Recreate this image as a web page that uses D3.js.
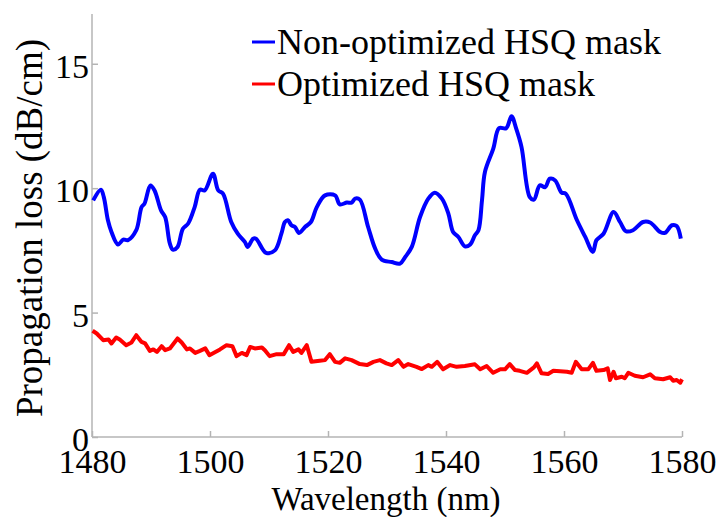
<html>
<script src='https://d3js.org/d3.v7.min.js'></script>
<style>
body {margin:0; background:#fff;}
.axis path, .axis line {stroke:#b4b4b4; stroke-width:1.5;}
</style>
<body>
<svg width=722 height=517></svg>
<script>
// non-optimized mask (blue), [wavelength, loss]
var blueWl = [1480.2,1481.5,1482.0,1482.7,1483.3,1484.4,1485.3,1486.1,1487.5,1488.4,1488.9,1489.9,1490.6,1491.7,1492.4,1493.2,1493.7,1494.5,1495.4,1496.3,1497.4,1498.3,1499.1,1500.5,1501.4,1502.2,1503.6,1504.7,1505.9,1506.4,1507.3,1507.8,1509.5,1511.0,1512.1,1512.7,1513.2,1513.8,1514.4,1515.1,1516.1,1517.1,1518.1,1519.5,1521.2,1522.0,1523.2,1524.0,1524.6,1525.4,1526.8,1528.0,1529.1,1530.8,1532.2,1533.1,1534.2,1535.6,1537.0,1538.1,1539.3,1540.4,1541.2,1542.1,1543.2,1544.1,1544.9,1545.5,1546.1,1546.6,1548.0,1549.0,1550.2,1551.1,1551.9,1552.8,1554.2,1554.9,1555.9,1556.8,1557.6,1558.5,1559.6,1560.3,1562.2,1563.6,1564.9,1565.5,1566.7,1568.4,1569.5,1570.5,1571.7,1573.4,1574.6,1576.3,1577.1,1578.3,1579.1,1579.8];
var blueLoss = [9.51,9.94,9.64,8.71,8.24,7.74,7.93,7.91,8.31,9.24,9.38,10.11,9.91,9.11,8.84,7.77,7.53,7.64,8.37,8.58,9.24,9.94,9.91,10.58,9.91,9.78,8.64,8.17,7.84,7.64,7.97,7.97,7.40,7.50,8.17,8.64,8.71,8.51,8.44,8.20,8.44,8.64,9.24,9.71,9.71,9.35,9.42,9.42,9.58,9.54,8.44,7.57,7.13,7.03,6.97,7.24,7.64,8.84,9.58,9.82,9.58,8.98,8.24,8.04,7.66,7.74,8.11,8.31,9.51,10.65,11.58,12.41,12.41,12.89,12.39,11.65,9.64,9.54,10.11,10.04,10.38,10.31,9.82,9.78,8.71,8.04,7.44,7.91,8.17,9.04,8.64,8.27,8.31,8.64,8.62,8.24,8.20,8.51,8.48,7.97];

// optimized mask (red)
var redWl = [1480.1,1480.8,1481.9,1482.8,1483.3,1484.1,1484.7,1485.8,1486.7,1487.5,1488.4,1489.0,1489.8,1490.4,1491.0,1491.8,1492.4,1493.2,1494.5,1495.2,1496.1,1496.6,1497.5,1498.3,1499.2,1499.9,1500.6,1501.7,1502.8,1503.8,1504.5,1505.4,1506.2,1506.8,1507.6,1508.8,1509.3,1510.1,1511.3,1512.5,1513.4,1514.1,1515.0,1515.5,1516.4,1517.2,1518.6,1519.5,1520.3,1521.2,1522.0,1522.9,1524.0,1525.4,1526.6,1527.7,1528.8,1529.9,1530.8,1531.9,1532.8,1533.6,1535.0,1535.9,1537.0,1537.6,1538.5,1539.5,1540.7,1541.8,1543.2,1544.9,1545.8,1546.9,1548.0,1549.2,1550.0,1550.8,1551.7,1552.5,1553.7,1554.9,1555.4,1556.2,1557.3,1558.2,1560.5,1561.3,1562.0,1563.0,1564.1,1564.9,1565.5,1566.7,1567.4,1567.8,1568.4,1568.8,1569.8,1570.3,1570.9,1572.0,1573.4,1574.6,1575.4,1576.8,1578.0,1578.5,1579.1,1579.7,1580.0];
var redLoss = [4.27,4.16,3.89,3.92,3.76,4.00,3.92,3.69,3.80,4.09,3.82,3.76,3.46,3.52,3.42,3.65,3.49,3.56,3.96,3.80,3.52,3.56,3.38,3.46,3.56,3.29,3.38,3.52,3.69,3.65,3.25,3.38,3.29,3.62,3.56,3.60,3.49,3.25,3.33,3.33,3.69,3.42,3.52,3.38,3.69,3.02,3.06,3.09,3.33,3.02,2.98,3.16,3.09,2.93,2.89,3.02,3.09,2.96,2.89,3.09,2.82,2.93,2.82,2.73,2.89,2.82,3.02,2.72,2.89,2.82,2.85,2.92,2.72,2.85,2.58,2.72,2.72,2.93,2.69,2.66,2.58,2.80,2.96,2.56,2.53,2.66,2.62,2.58,3.02,2.72,2.72,2.98,2.66,2.69,2.76,2.29,2.62,2.36,2.42,2.36,2.58,2.46,2.40,2.52,2.36,2.32,2.40,2.26,2.29,2.18,2.32];

var xTicks = [1480,1500,1520,1540,1560,1580];
var yTicks = [0,5,10,15];
var seriesNames = ['Non-optimized HSQ mask','Optimized HSQ mask'];
var seriesColors = ['#0000ff','#ff0000'];

// pick a serif face that is really installed
function pickFont(list){
  var ctx = document.createElement('canvas').getContext('2d');
  var probe = 'abcmwHSQ0123(nm)';
  ctx.font = '40px monospace';
  var w0 = ctx.measureText(probe).width;
  for (var i=0;i<list.length;i++){
    ctx.font = '40px "'+list[i]+'", monospace';
    if (ctx.measureText(probe).width !== w0) return '"'+list[i]+'", serif';
  }
  return 'serif';
}
var serif = pickFont(['Liberation Serif','Times New Roman','Tinos','Times','Nimbus Roman','Noto Serif','DejaVu Serif']);

var svg = d3.select('svg');
var mLeft = 92, mRight = 682, mTop = 14, mBottom = 437;

var xs = d3.scaleLinear().domain([1480,1580]).range([mLeft,mRight]);
var ys = d3.scaleLinear().domain([0,17]).range([mBottom,mTop]);

var ax = svg.append('g').attr('class','axis').attr('transform','translate(0,'+mBottom+')')
  .call(d3.axisBottom(xs).tickValues(xTicks).tickFormat(d3.format('d'))
    .tickSizeInner(-6).tickSizeOuter(0).tickPadding(12));
ax.attr('font-family',serif).attr('font-size',34);
ax.selectAll('text').attr('fill','#000').attr('dy','0.71em');

var ay = svg.append('g').attr('class','axis').attr('transform','translate('+mLeft+',0)')
  .call(d3.axisLeft(ys).tickValues(yTicks).tickFormat(d3.format('d'))
    .tickSizeInner(-6).tickSizeOuter(0).tickPadding(3));
ay.attr('font-family',serif).attr('font-size',34);
ay.selectAll('text').attr('fill','#000').attr('dy','0.4em');
// axis lines span the whole plot box
ay.select('.domain').attr('d','M0,'+mTop+'V'+mBottom);
ax.select('.domain').attr('d','M'+mLeft+',0H'+mRight);

var line = d3.line().x(function(d){return xs(d[0]);}).y(function(d){return ys(d[1]);});

svg.append('path').datum(d3.zip(blueWl,blueLoss)).attr('d',line.curve(d3.curveCatmullRom.alpha(0.5)))
  .attr('fill','none').attr('stroke',seriesColors[0]).attr('stroke-width',4).attr('stroke-linejoin','round');
svg.append('path').datum(d3.zip(redWl,redLoss)).attr('d',line.curve(d3.curveLinear))
  .attr('fill','none').attr('stroke',seriesColors[1]).attr('stroke-width',4).attr('stroke-linejoin','round');

// axis titles
svg.append('text').attr('x',386).attr('y',510).attr('text-anchor','middle')
  .attr('font-family',serif).attr('font-size',33).text('Wavelength (nm)');
svg.append('text').attr('transform','translate(42,228) rotate(-90)').attr('text-anchor','middle')
  .attr('font-family',serif).attr('font-size',37).text('Propagation loss (dB/cm)');

// legend
var leg = svg.append('g').attr('font-family',serif).attr('font-size',36);
seriesNames.forEach(function(n,i){
  var y = 42 + i*42;
  leg.append('line').attr('x1',252).attr('x2',275).attr('y1',y).attr('y2',y)
    .attr('stroke',seriesColors[i]).attr('stroke-width',3);
  leg.append('text').attr('x',277).attr('y',y+12).text(n);
});
</script>
</body>
</html>
